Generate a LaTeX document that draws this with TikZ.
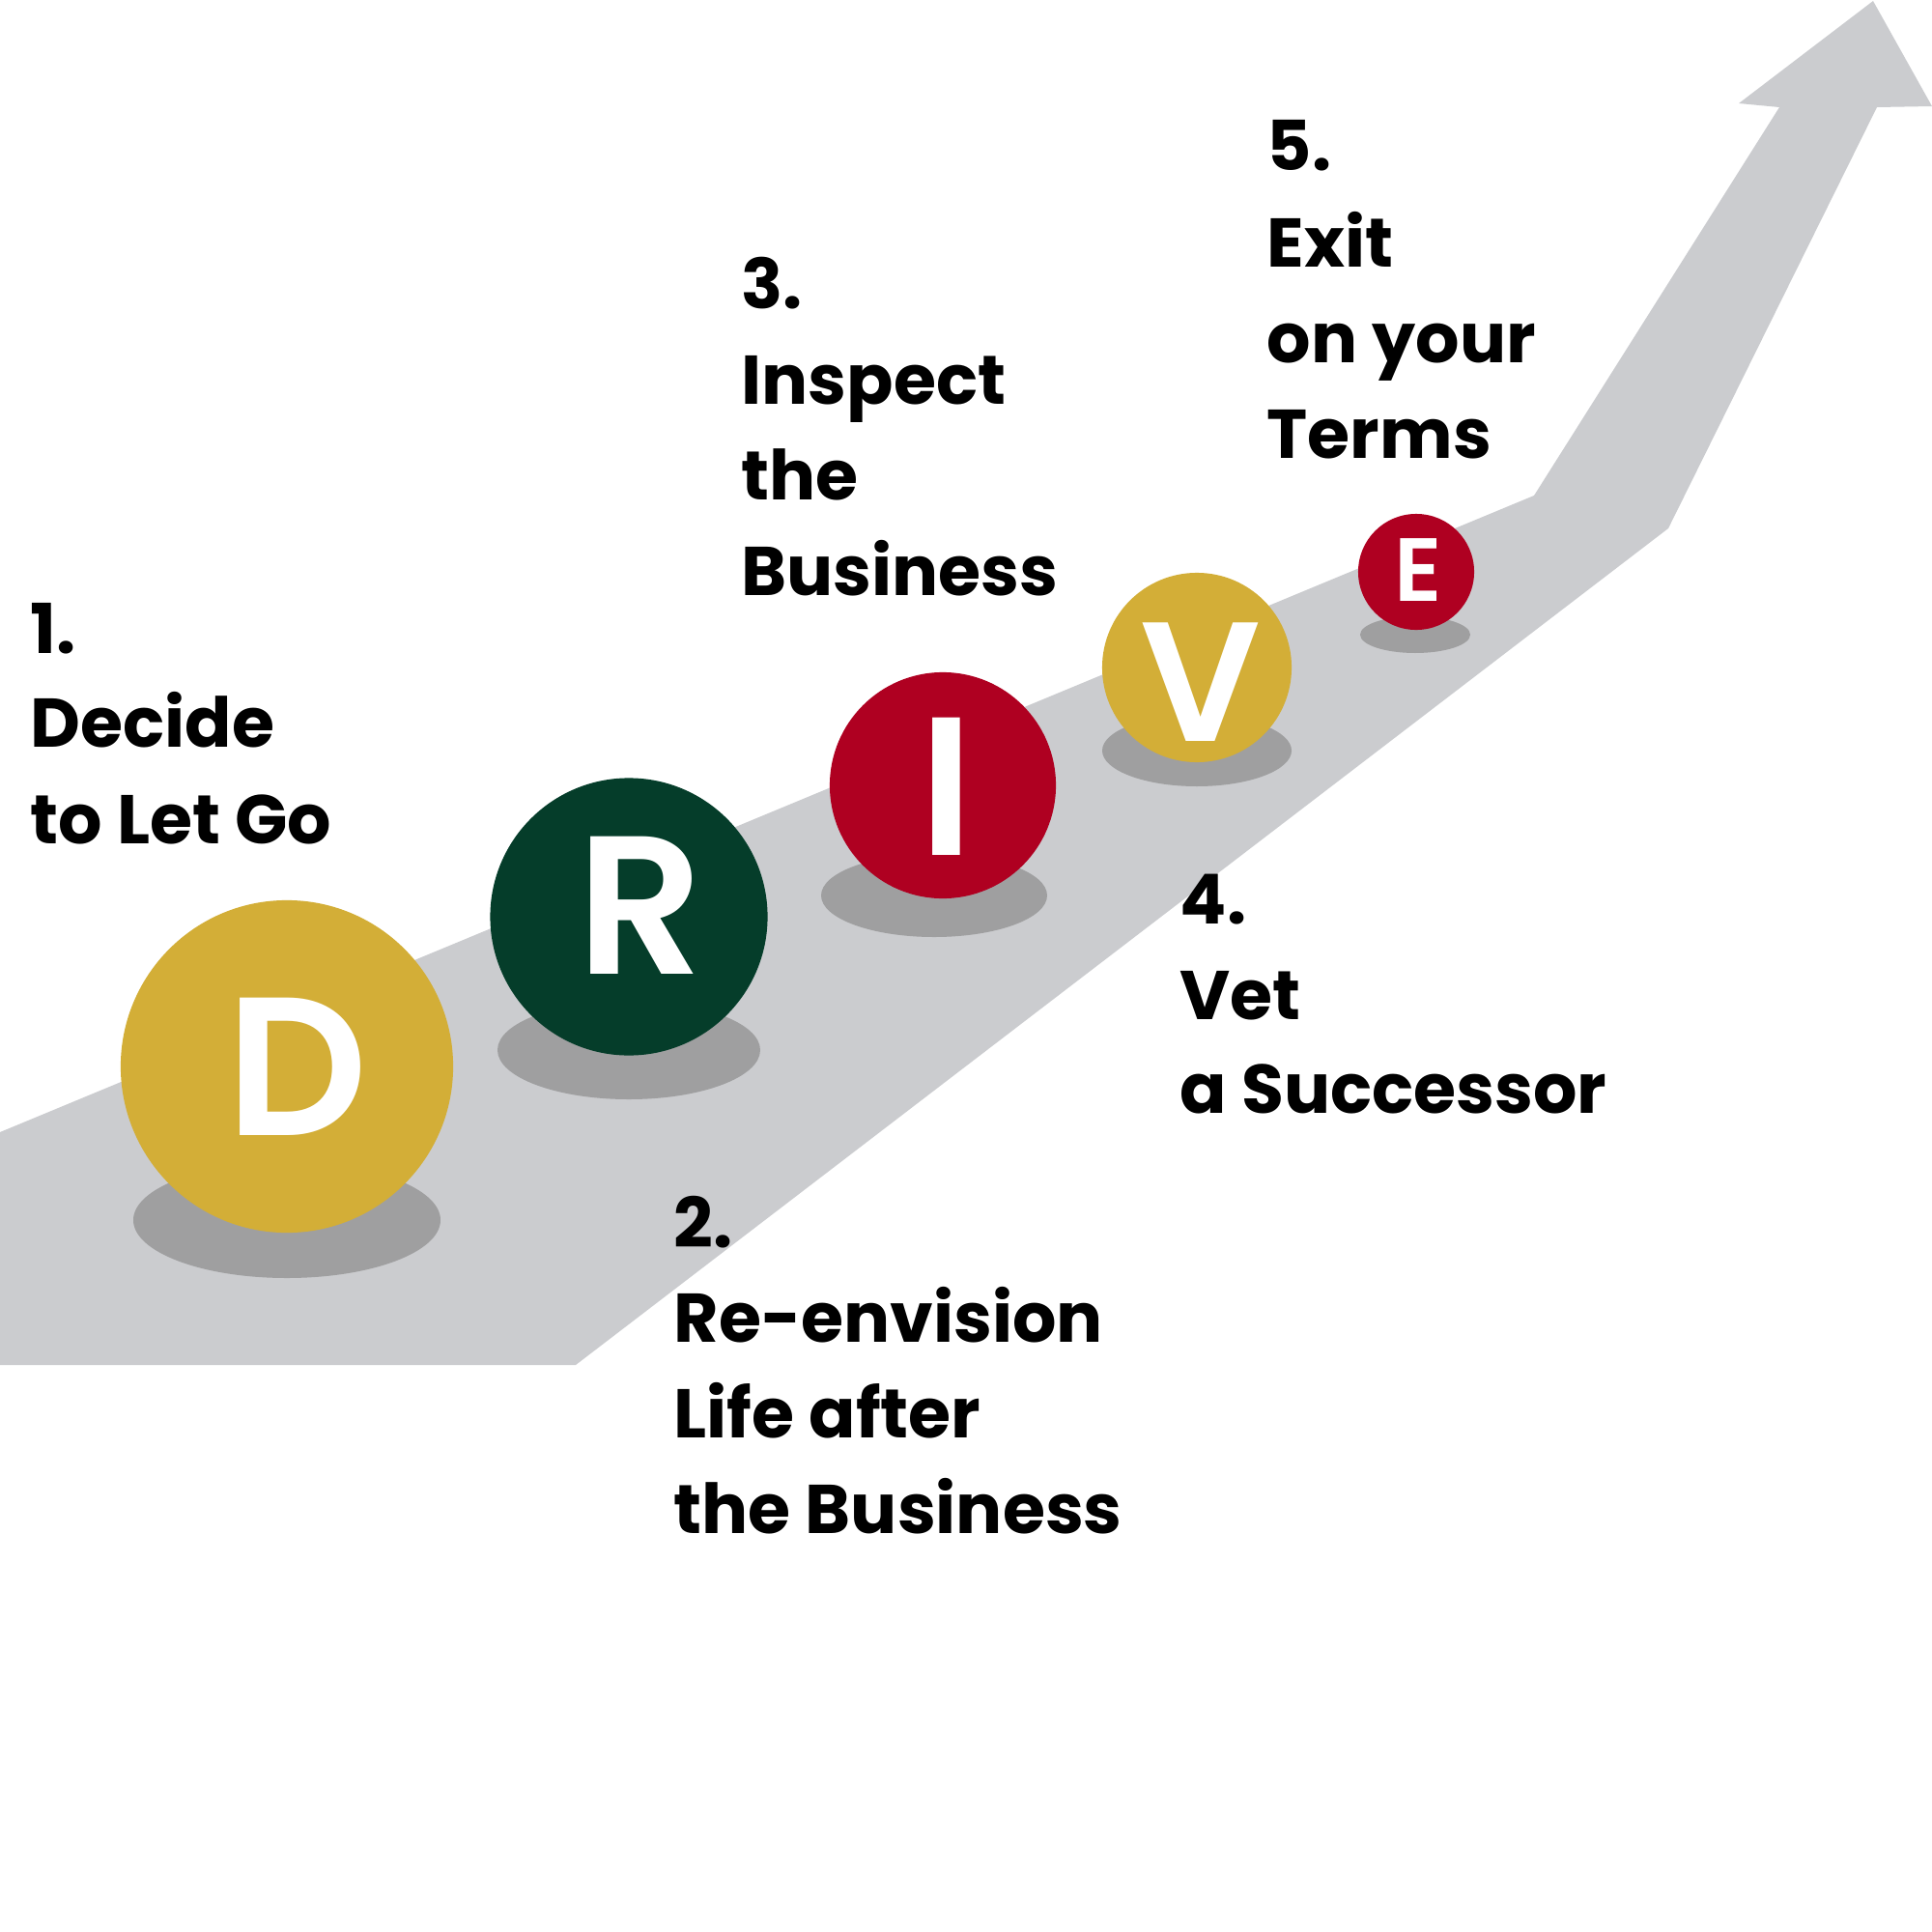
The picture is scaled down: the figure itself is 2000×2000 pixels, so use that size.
\documentclass[tikz,border=0pt]{standalone}
\usepackage{fontspec}
\setmainfont{Poppins}
\IfFontExistsTF{Poppins SemiBold}{\newfontfamily\ballfont{Poppins SemiBold}}{\newcommand\ballfont{\bfseries}}
\definecolor{bandgray}{HTML}{CBCCCF}
\definecolor{shadowgray}{HTML}{9F9FA0}
\definecolor{gold}{HTML}{D3AE37}
\definecolor{darkgreen}{HTML}{053D2A}
\definecolor{crimson}{HTML}{AF0021}
\tikzset{
  ball/.style={circle, inner sep=0pt, draw=none},
  letter/.style={anchor=base, inner sep=0pt, text=white, font=\ballfont\fontsize{#1}{#1}\selectfont},
  lbl/.style={anchor=base west, inner sep=0pt, text=black, font=\bfseries\fontsize{20.3}{28}\selectfont},
}
\begin{document}
\begin{tikzpicture}[x=0.01cm,y=-0.01cm]
\useasboundingbox (0,0) rectangle (2000,2000);
% band with arrow
\fill[bandgray] (0,1172) -- (1588,513) -- (1842,111) -- (1800,107) -- (1939,1)
  -- (2000,110) -- (1943,111) -- (1727,547) -- (596,1413) -- (0,1413) -- cycle;
% shadows
\fill[shadowgray] (297,1263) ellipse [x radius=159, y radius=60];
\fill[shadowgray] (651,1087) ellipse [x radius=136, y radius=51];
\fill[shadowgray] (967,927) ellipse [x radius=117, y radius=43];
\fill[shadowgray] (1239,777) ellipse [x radius=98, y radius=37];
\fill[shadowgray] (1465,657) ellipse [x radius=57, y radius=19];
% circles
\node[ball, fill=gold, minimum size=3.44cm] (cD) at (297,1104) {};
\node[ball, fill=darkgreen, minimum size=2.87cm] (cR) at (651,949) {};
\node[ball, fill=crimson, minimum size=2.34cm] (cI) at (976,813) {};
\node[ball, fill=gold, minimum size=1.96cm] (cV) at (1239,691) {};
\node[ball, fill=crimson, minimum size=1.20cm] (cE) at (1466,592) {};
% letters
\node[letter=58] (lD) at (308,1175) {D};
\node[letter=58] (lR) at (663,1008) {R};
\node[letter=58] (lI) at (980,885) {I};
\node[letter=50] (lV) at (1243,767) {V};
\node[letter=26.4] (lE) at (1468,622) {E};
% label 1
\node[lbl] (t1a) at (31,676) {1.};
\node[lbl] (t1b) at (31,773) {Decide};
\node[lbl] (t1c) at (31,873) {to Let Go};
% label 2
\node[lbl] (t2a) at (697,1291) {2.};
\node[lbl] (t2b) at (697,1389) {Re-envision};
\node[lbl] (t2c) at (697,1488) {Life after};
\node[lbl] (t2d) at (697,1587) {the Business};
% label 3
\node[lbl] (t3a) at (767,319) {3.};
\node[lbl] (t3b) at (767,418) {Inspect};
\node[lbl] (t3c) at (767,517) {the};
\node[lbl] (t3d) at (767,616) {Business};
% label 4
\node[lbl] (t4a) at (1221,956) {4.};
\node[lbl] (t4b) at (1221,1055) {Vet};
\node[lbl] (t4c) at (1221,1152) {a Successor};
% label 5
\node[lbl] (t5a) at (1311,177) {5.};
\node[lbl] (t5b) at (1311,276) {Exit};
\node[lbl] (t5c) at (1311,375) {on your};
\node[lbl] (t5d) at (1311,474) {Terms};
\end{tikzpicture}
\end{document}
